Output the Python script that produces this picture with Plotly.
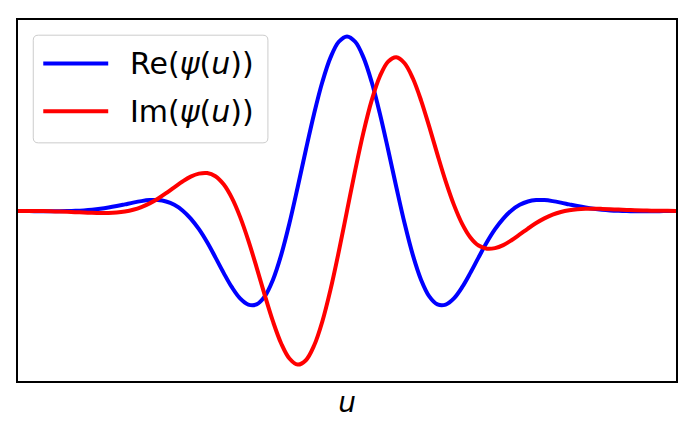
import plotly.graph_objects as go

# sample positions along u
u = [
    -4.0, -3.9, -3.8, -3.7, -3.6, -3.5, -3.4, -3.3, -3.2, -3.1,
    -3.0, -2.9, -2.8, -2.7, -2.6, -2.5, -2.4, -2.3, -2.2, -2.1,
    -2.0, -1.9, -1.8, -1.7, -1.6, -1.5, -1.4, -1.3, -1.2, -1.1,
    -1.0, -0.9, -0.8, -0.7, -0.6, -0.5, -0.4, -0.3, -0.2, -0.1,
    0.0,
    0.1, 0.2, 0.3, 0.4, 0.5, 0.6, 0.7, 0.8, 0.9, 1.0,
    1.1, 1.2, 1.3, 1.4, 1.5, 1.6, 1.7, 1.8, 1.9, 2.0,
    2.1, 2.2, 2.3, 2.4, 2.5, 2.6, 2.7, 2.8, 2.9, 3.0,
    3.1, 3.2, 3.3, 3.4, 3.5, 3.6, 3.7, 3.8, 3.9, 4.0,
]

re_psi = [
    -0.0008, -0.0011, -0.0014, -0.0016, -0.0018, -0.0017, -0.0010, 0.0004, 0.0028, 0.0066,
    0.0120, 0.0191, 0.0277, 0.0374, 0.0473, 0.0559, 0.0617, 0.0618, 0.0538, 0.0348,
    0.0026, -0.0440, -0.1050, -0.1801, -0.2664, -0.3553, -0.4374, -0.5017, -0.5370, -0.5359,
    -0.4900, -0.3945, -0.2522, -0.0713, 0.1353, 0.3506, 0.5571, 0.7384, 0.8797, 0.9693,
    1.0,
    0.9693, 0.8797, 0.7384, 0.5571, 0.3506, 0.1353, -0.0713, -0.2522, -0.3945, -0.4900,
    -0.5359, -0.5370, -0.5017, -0.4374, -0.3553, -0.2664, -0.1801, -0.1050, -0.0440, 0.0026,
    0.0348, 0.0538, 0.0618, 0.0617, 0.0559, 0.0473, 0.0374, 0.0277, 0.0191, 0.0120,
    0.0066, 0.0028, 0.0004, -0.0010, -0.0017, -0.0018, -0.0016, -0.0014, -0.0011, -0.0008,
]

# imaginary part
im_psi = [
    0.0000, -0.0002, -0.0007, -0.0013, -0.0023, -0.0037, -0.0054, -0.0074, -0.0096, -0.0114,
    -0.0126, -0.0123, -0.0097, -0.0037, 0.0065, 0.0219, 0.0431, 0.0698, 0.1013, 0.1352,
    0.1683, 0.1962, 0.2133, 0.2167, 0.1987, 0.1521, 0.0742, -0.0344, -0.1690, -0.3221,
    -0.4825, -0.6338, -0.7600, -0.8462, -0.8808, -0.8558, -0.7718, -0.6337, -0.4500, -0.2335,
    0.0,
    0.2335, 0.4500, 0.6337, 0.7718, 0.8558, 0.8808, 0.8462, 0.7600, 0.6338, 0.4825,
    0.3221, 0.1690, 0.0344, -0.0742, -0.1521, -0.1987, -0.2167, -0.2133, -0.1962, -0.1683,
    -0.1352, -0.1013, -0.0698, -0.0431, -0.0219, -0.0065, 0.0037, 0.0097, 0.0123, 0.0126,
    0.0114, 0.0096, 0.0074, 0.0054, 0.0037, 0.0023, 0.0013, 0.0007, 0.0002, 0.0000,
]

labels = ["Re(<i>ψ</i>(<i>u</i>))", "Im(<i>ψ</i>(<i>u</i>))"]
colors = ["#0000ff", "#ff0000"]

FONT = "DejaVu Sans"

fig = go.Figure()

for ys, name, c in zip([re_psi, im_psi], labels, colors):
    fig.add_trace(
        go.Scatter(
            x=u,
            y=ys,
            mode="lines",
            name=name,
            line=dict(color=c, width=4, shape="spline", smoothing=1),
            showlegend=False,
        )
    )

# legend box drawn by hand so the line samples are as long as in the original
x0, x1, y0, y1 = 0.0232, 0.3798, 0.6597, 0.9579
rx, ry = 0.0076, 0.0138
box = (
    f"M {x0 + rx},{y0} L {x1 - rx},{y0} Q {x1},{y0} {x1},{y0 + ry} "
    f"L {x1},{y1 - ry} Q {x1},{y1} {x1 - rx},{y1} "
    f"L {x0 + rx},{y1} Q {x0},{y1} {x0},{y1 - ry} "
    f"L {x0},{y0 + ry} Q {x0},{y0} {x0 + rx},{y0} Z"
)
fig.add_shape(
    type="path",
    path=box,
    xref="paper",
    yref="paper",
    line=dict(color="#cccccc", width=1),
    fillcolor="rgba(255,255,255,0.8)",
    layer="above",
)

for ly, name, c in zip([0.8798, 0.7469], labels, colors):
    fig.add_shape(
        type="line",
        xref="paper",
        yref="paper",
        x0=0.0384,
        x1=0.1371,
        y0=ly,
        y1=ly,
        line=dict(color=c, width=4),
        layer="above",
    )
    fig.add_annotation(
        text=name,
        xref="paper",
        yref="paper",
        x=0.1675,
        y=ly,
        xanchor="left",
        yanchor="middle",
        showarrow=False,
        font=dict(family=FONT, size=30, color="black"),
    )

axis_style = dict(
    showticklabels=False,
    ticks="",
    showgrid=False,
    zeroline=False,
    showline=True,
    mirror=True,
    linecolor="black",
    linewidth=1.5,
)

# page body has an 8px margin, so the figure is a bit smaller than the window
fig.update_layout(
    width=680,
    height=421,
    margin=dict(l=10, r=11, t=10, b=48),
    paper_bgcolor="white",
    plot_bgcolor="white",
    font=dict(family=FONT, size=28, color="black"),
    xaxis=dict(
        range=[-4, 4],
        title=dict(text="<i>u</i>", font=dict(family=FONT, size=28), standoff=11),
        **axis_style,
    ),
    yaxis=dict(range=[-0.975, 1.094], **axis_style),
)

fig.write_html("out.html")
